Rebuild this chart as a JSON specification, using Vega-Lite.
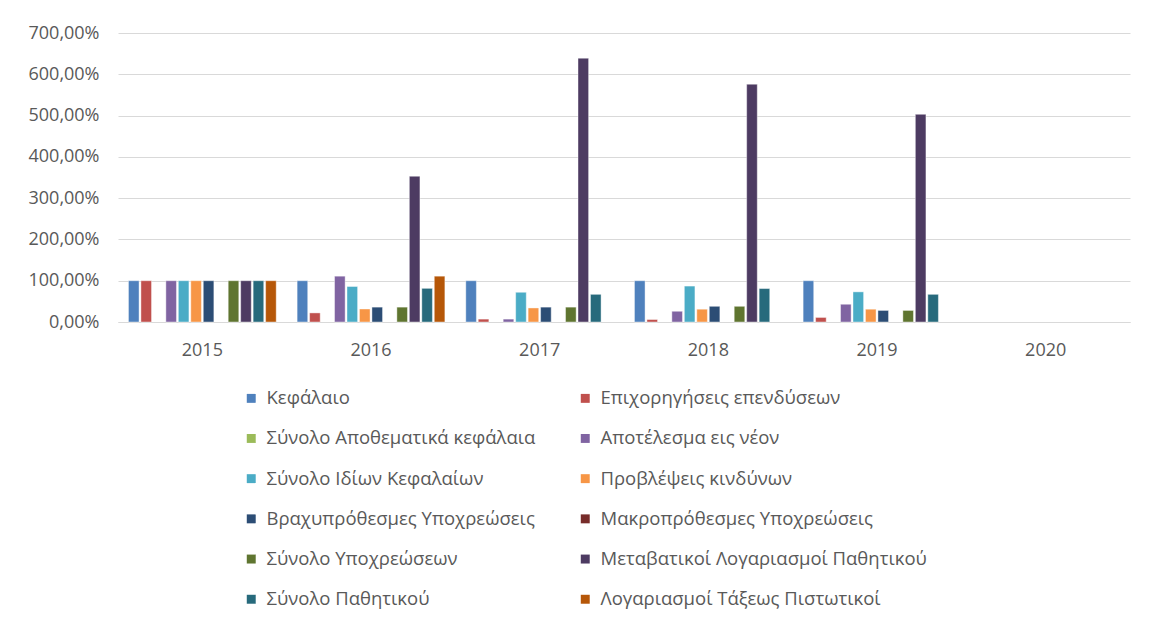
{
  "$schema": "https://vega.github.io/schema/vega-lite/v6.json",
  "width": 1012,
  "height": 289,
  "autosize": {"type": "none"},
  "padding": {"left": 118, "top": 33, "right": 22, "bottom": 304},
  "background": "white",
  "config": {
    "view": {"stroke": null},
    "font": "Open Sans",
    "axis": {"labelColor": "#595959", "labelFont": "Open Sans"},
    "legend": {"labelColor": "#595959", "labelFont": "Open Sans"}
  },
  "data": {
    "values": [
      {"year": "2015", "series": "Κεφάλαιο", "value": 1.0},
      {"year": "2015", "series": "Επιχορηγήσεις επενδύσεων", "value": 1.0},
      {"year": "2015", "series": "Αποτέλεσμα εις νέον", "value": 1.0},
      {"year": "2015", "series": "Σύνολο Ιδίων Κεφαλαίων", "value": 1.0},
      {"year": "2015", "series": "Προβλέψεις κινδύνων", "value": 1.0},
      {"year": "2015", "series": "Βραχυπρόθεσμες Υποχρεώσεις", "value": 1.0},
      {"year": "2015", "series": "Σύνολο Υποχρεώσεων", "value": 1.0},
      {"year": "2015", "series": "Μεταβατικοί Λογαριασμοί Παθητικού", "value": 1.0},
      {"year": "2015", "series": "Σύνολο Παθητικού", "value": 1.0},
      {"year": "2015", "series": "Λογαριασμοί Τάξεως Πιστωτικοί", "value": 1.0},
      {"year": "2016", "series": "Κεφάλαιο", "value": 1.0},
      {"year": "2016", "series": "Επιχορηγήσεις επενδύσεων", "value": 0.22},
      {"year": "2016", "series": "Αποτέλεσμα εις νέον", "value": 1.11},
      {"year": "2016", "series": "Σύνολο Ιδίων Κεφαλαίων", "value": 0.86},
      {"year": "2016", "series": "Προβλέψεις κινδύνων", "value": 0.315},
      {"year": "2016", "series": "Βραχυπρόθεσμες Υποχρεώσεις", "value": 0.36},
      {"year": "2016", "series": "Σύνολο Υποχρεώσεων", "value": 0.36},
      {"year": "2016", "series": "Μεταβατικοί Λογαριασμοί Παθητικού", "value": 3.53},
      {"year": "2016", "series": "Σύνολο Παθητικού", "value": 0.815},
      {"year": "2016", "series": "Λογαριασμοί Τάξεως Πιστωτικοί", "value": 1.11},
      {"year": "2017", "series": "Κεφάλαιο", "value": 1.0},
      {"year": "2017", "series": "Επιχορηγήσεις επενδύσεων", "value": 0.07},
      {"year": "2017", "series": "Αποτέλεσμα εις νέον", "value": 0.07},
      {"year": "2017", "series": "Σύνολο Ιδίων Κεφαλαίων", "value": 0.72},
      {"year": "2017", "series": "Προβλέψεις κινδύνων", "value": 0.34},
      {"year": "2017", "series": "Βραχυπρόθεσμες Υποχρεώσεις", "value": 0.36},
      {"year": "2017", "series": "Σύνολο Υποχρεώσεων", "value": 0.36},
      {"year": "2017", "series": "Μεταβατικοί Λογαριασμοί Παθητικού", "value": 6.39},
      {"year": "2017", "series": "Σύνολο Παθητικού", "value": 0.67},
      {"year": "2018", "series": "Κεφάλαιο", "value": 1.0},
      {"year": "2018", "series": "Επιχορηγήσεις επενδύσεων", "value": 0.06},
      {"year": "2018", "series": "Αποτέλεσμα εις νέον", "value": 0.26},
      {"year": "2018", "series": "Σύνολο Ιδίων Κεφαλαίων", "value": 0.87},
      {"year": "2018", "series": "Προβλέψεις κινδύνων", "value": 0.31},
      {"year": "2018", "series": "Βραχυπρόθεσμες Υποχρεώσεις", "value": 0.38},
      {"year": "2018", "series": "Σύνολο Υποχρεώσεων", "value": 0.38},
      {"year": "2018", "series": "Μεταβατικοί Λογαριασμοί Παθητικού", "value": 5.76},
      {"year": "2018", "series": "Σύνολο Παθητικού", "value": 0.81},
      {"year": "2019", "series": "Κεφάλαιο", "value": 1.0},
      {"year": "2019", "series": "Επιχορηγήσεις επενδύσεων", "value": 0.11},
      {"year": "2019", "series": "Αποτέλεσμα εις νέον", "value": 0.43},
      {"year": "2019", "series": "Σύνολο Ιδίων Κεφαλαίων", "value": 0.73},
      {"year": "2019", "series": "Προβλέψεις κινδύνων", "value": 0.31},
      {"year": "2019", "series": "Βραχυπρόθεσμες Υποχρεώσεις", "value": 0.28},
      {"year": "2019", "series": "Σύνολο Υποχρεώσεων", "value": 0.28},
      {"year": "2019", "series": "Μεταβατικοί Λογαριασμοί Παθητικού", "value": 5.03},
      {"year": "2019", "series": "Σύνολο Παθητικού", "value": 0.67}
    ]
  },
  "mark": {"type": "bar", "stroke": "white", "strokeOpacity": 0.6, "strokeWidth": 0.7},
  "encoding": {
    "x": {
      "field": "year", "type": "nominal",
      "scale": {"domain": ["2015", "2016", "2017", "2018", "2019", "2020"], "paddingInner": 0.124, "paddingOuter": 0.062},
      "axis": {"title": null, "labelAngle": 0, "ticks": false, "domainColor": "#D9D9D9", "domainWidth": 1, "labelPadding": 19, "labelFontSize": 18}
    },
    "xOffset": {
      "field": "series", "type": "nominal",
      "scale": {"domain": ["Κεφάλαιο", "Επιχορηγήσεις επενδύσεων", "Σύνολο Αποθεματικά κεφάλαια", "Αποτέλεσμα εις νέον", "Σύνολο Ιδίων Κεφαλαίων", "Προβλέψεις κινδύνων", "Βραχυπρόθεσμες Υποχρεώσεις", "Μακροπρόθεσμες Υποχρεώσεις", "Σύνολο Υποχρεώσεων", "Μεταβατικοί Λογαριασμοί Παθητικού", "Σύνολο Παθητικού", "Λογαριασμοί Τάξεως Πιστωτικοί"], "paddingInner": 0.15, "paddingOuter": 0}
    },
    "y": {
      "field": "value", "type": "quantitative",
      "scale": {"domain": [0, 7], "nice": false},
      "axis": {"title": null, "values": [0, 1, 2, 3, 4, 5, 6, 7], "labelOverlap": false, "labelExpr": "replace(format(datum.value, '.2%'), '.', ',')", "ticks": false, "domain": false, "gridColor": "#D9D9D9", "gridWidth": 1, "labelPadding": 19, "labelFontSize": 18}
    },
    "color": {
      "field": "series", "type": "nominal",
      "scale": {
        "domain": ["Κεφάλαιο", "Επιχορηγήσεις επενδύσεων", "Σύνολο Αποθεματικά κεφάλαια", "Αποτέλεσμα εις νέον", "Σύνολο Ιδίων Κεφαλαίων", "Προβλέψεις κινδύνων", "Βραχυπρόθεσμες Υποχρεώσεις", "Μακροπρόθεσμες Υποχρεώσεις", "Σύνολο Υποχρεώσεων", "Μεταβατικοί Λογαριασμοί Παθητικού", "Σύνολο Παθητικού", "Λογαριασμοί Τάξεως Πιστωτικοί"],
        "range": ["#4F81BD", "#C0504D", "#9BBB59", "#8064A2", "#4BACC6", "#F79646", "#2C4D75", "#772C2A", "#5F7530", "#4D3B62", "#276A7C", "#B65708"]
      },
      "legend": {
        "title": null, "orient": "none", "legendX": 124, "legendY": 356, "direction": "horizontal",
        "columns": 2, "symbolType": "square", "symbolSize": 80, "symbolStrokeWidth": 0,
        "labelLimit": 500, "rowPadding": 21.2, "columnPadding": 40, "labelOffset": 6,
        "labelFontSize": 18.5, "gridAlign": "each"
      }
    }
  }
}
